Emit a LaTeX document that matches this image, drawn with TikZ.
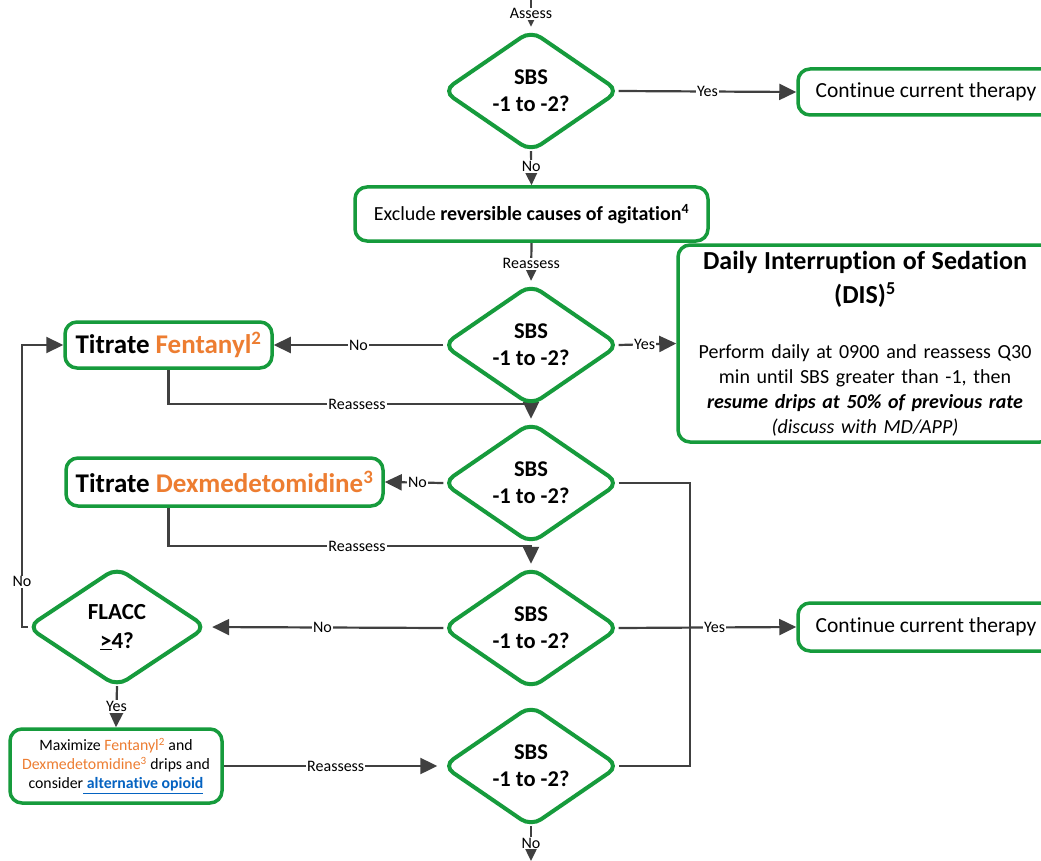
\documentclass[tikz,border=0pt]{standalone}
\usepackage{fontspec}
\setmainfont{Carlito}[Ligatures=NoCommon]
\usetikzlibrary{arrows.meta,calc}
\definecolor{grn}{RGB}{22,155,60}
\definecolor{lin}{RGB}{64,64,64}
\definecolor{org}{RGB}{237,125,49}
\definecolor{lnk}{RGB}{5,99,193}
\pgfdeclarelayer{bgfill}
\pgfdeclarelayer{edges}
\pgfdeclarelayer{shapes}
\pgfsetlayers{bgfill,edges,shapes,main}
\begin{document}
\begin{tikzpicture}[x=1pt,y=-1pt,
  dec/.style={minimum width=175pt,minimum height=120pt,inner sep=0pt,align=center,font=\fontsize{22.5}{27}\selectfont\bfseries},
  box/.style={draw=grn,line width=3.5pt,rounded corners=12pt,fill=white,align=center,inner sep=0pt,font=\fontsize{20}{25}\selectfont},
  conn/.style={draw=lin,line width=2.2pt},
  arr/.style={conn,-{Triangle[length=17pt,width=16pt]}},
  lbl/.style={fill=white,inner sep=1pt,font=\fontsize{16}{16}\selectfont,text=black},
  dshape/.style={draw=grn,line width=4pt,fill=white,rounded corners=12pt}
]
\begin{pgfonlayer}{bgfill}
\fill[white] (0,0) rectangle (1041,861);
\end{pgfonlayer}
\useasboundingbox (0,0) rectangle (1041,861);

% decision nodes
\node[dec] (d1) at (531,91) {SBS\\-1 to -2?};
\node[dec] (d2) at (531,345) {SBS\\-1 to -2?};
\node[dec] (d3) at (531,483) {SBS\\-1 to -2?};
\node[dec] (d4) at (531,628) {SBS\\-1 to -2?};
\node[dec] (d5) at (531,766) {SBS\\-1 to -2?};
\node[dec,minimum width=178pt,minimum height=118pt,font=\fontsize{23}{29}\selectfont\bfseries] (fl) at (117,627) {FLACC\\\underline{>}4?};

% boxes
\node[box,minimum width=256pt,minimum height=46pt,font=\fontsize{21.5}{25}\selectfont] (c1) at (926,92) {Continue current therapy};
\node[box,minimum width=353pt,minimum height=54pt] (ex) at (531.5,214) {Exclude \textbf{reversible causes of agitation}\textsuperscript{\textbf{4}}};
\node[box,minimum width=374pt,minimum height=197pt,text width=360pt] (dis) at (865,343.5)
 {{\fontsize{26}{26}\selectfont\bfseries Daily Interruption of Sedation}\\[9pt]
  {\fontsize{26}{26}\selectfont\bfseries (DIS)\textsuperscript{5}}\\[30pt]
  Perform daily at 0900 and reassess Q30\\
  min until SBS greater than -1, then\\
  \textbf{\textit{resume drips at 50\% of previous rate}}\\
  \textit{(discuss with MD/APP)}};
\node[box,minimum width=207pt,minimum height=46pt,font=\fontsize{27}{30}\selectfont\bfseries] (fe) at (168.5,345)
 {Titrate \textcolor{org}{Fentanyl\textsuperscript{2}}};
\node[box,minimum width=317pt,minimum height=48pt,font=\fontsize{27}{30}\selectfont\bfseries] (dx) at (224.5,482)
 {Titrate \textcolor{org}{Dexmedetomidine\textsuperscript{3}}};
\node[box,minimum width=256pt,minimum height=48pt,font=\fontsize{21.5}{25}\selectfont] (c2) at (926,627) {Continue current therapy};
\node[box,minimum width=212pt,minimum height=74pt,font=\fontsize{15.8}{19}\selectfont] (mx) at (116,766)
 {Maximize \textcolor{org}{Fentanyl\textsuperscript{2}} and\\
  \textcolor{org}{Dexmedetomidine\textsuperscript{3}} drips and\\
  consider\textcolor{lnk}{\underline{\textbf{\ alternative opioid}}}};

% helper coordinates
\coordinate (top) at (531,0);
\coordinate (bot) at (531,861);
\coordinate (r1) at (531,404);
\coordinate (r2) at (531,546);
\coordinate (v3) at (690,483);
\coordinate (v5) at (690,766);
\coordinate (l1) at (22,627);
\coordinate (l2) at (22,345);

\begin{pgfonlayer}{shapes}
\foreach \d in {d1,d2,d3,d4,d5,fl}{
  \draw[dshape] ($(\d.north)!0.5!(\d.east)$) -- (\d.east) -- (\d.south) -- (\d.west) -- (\d.north) -- cycle;
}
\end{pgfonlayer}

\begin{pgfonlayer}{edges}
\draw[arr,shorten >=4pt] (top) -- node[lbl,pos=0.45]{Assess} (d1.north);
\draw[arr] (d1.east) -- node[lbl]{Yes} (c1.west);
\draw[arr] (d1.south) -- node[lbl,pos=0.45]{No} (ex.north);
\draw[arr,shorten >=4pt] (ex.south) -- node[lbl,pos=0.5]{Reassess} (d2.north);
\draw[arr] (d2.west) -- node[lbl]{No} (fe.east);
\draw[arr] (d2.east) -- node[lbl,pos=0.45]{Yes} (dis.west);
\draw[arr,shorten >=4pt] (fe.south) |- node[lbl,pos=0.76]{Reassess} (r1) -- (d3.north);
\draw[arr] (d3.west) -- node[lbl,pos=0.44]{No} (dx.east);
\draw[conn] (d3.east) -- (v3) -- (v5) -- (d5.east);
\draw[arr] (d4.east) -- node[lbl,pos=0.54]{Yes} (c2.west);
\draw[arr,shorten >=4pt] (dx.south -| fe.south) |- node[lbl,pos=0.76]{Reassess} (r2) -- (d4.north);
\draw[arr,shorten >=6pt] (d4.west) -- node[lbl,pos=0.51]{No} (fl.east);
\draw[arr] (fl.west) -- (l1) -- node[lbl,pos=0.16]{No} (l2) -- (fe.west);
\draw[arr] (fl.south) -- node[lbl,pos=0.49]{Yes} (mx.north);
\draw[arr,shorten >=6pt] (mx.east) -- node[lbl,pos=0.51]{Reassess} (d5.west);
\draw[arr] (d5.south) -- node[lbl,pos=0.49]{No} (bot);
\end{pgfonlayer}
\end{tikzpicture}
\end{document}
